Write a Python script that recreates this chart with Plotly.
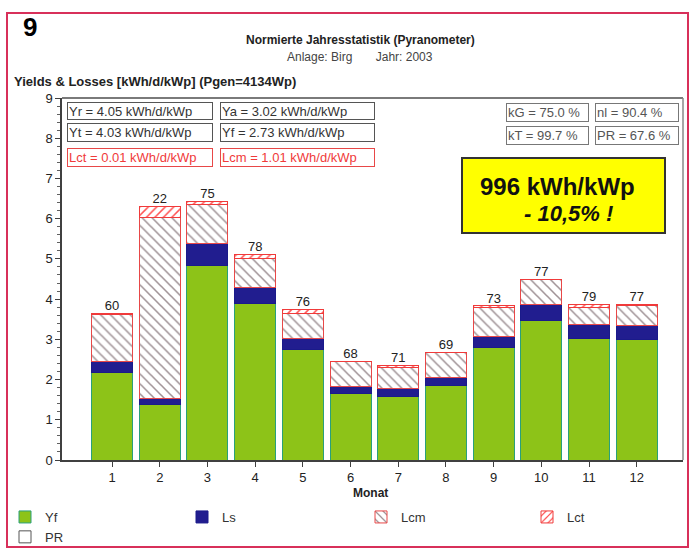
import numpy as np
import plotly.graph_objects as go

# Monthly normalised yields and losses (kWh/d/kWp)
months = list(range(1, 13))
yf = [2.17, 1.37, 4.83, 3.88, 2.74, 1.66, 1.59, 1.84, 2.80, 3.46, 3.03, 2.99]
ls = [0.28, 0.16, 0.56, 0.41, 0.27, 0.16, 0.18, 0.20, 0.27, 0.40, 0.35, 0.35]
lcm = [1.17, 4.50, 0.95, 0.71, 0.64, 0.63, 0.54, 0.63, 0.73, 0.62, 0.41, 0.49]
lct = [0.02, 0.27, 0.09, 0.12, 0.10, 0.01, 0.04, 0.01, 0.03, 0.02, 0.07, 0.03]
pr = [60, 22, 75, 78, 76, 68, 71, 69, 73, 77, 79, 77]

left_boxes = [["Yr = 4.05 kWh/d/kWp", "Ya = 3.02 kWh/d/kWp"],
              ["Yt = 4.03 kWh/d/kWp", "Yf = 2.73 kWh/d/kWp"],
              ["Lct = 0.01 kWh/d/kWp", "Lcm = 1.01 kWh/d/kWp"]]
right_boxes = [["kG = 75.0 %", "nl = 90.4 %"],
               ["kT = 99.7 %", "PR = 67.6 %"]]

FONT = "Liberation Sans, Arial, sans-serif"
W, H = 694, 551
L, R, T, B = 62, 11, 98, 91
PW, PH = W - L - R, H - T - B


def px(x):
    return (x - L) / PW


def py(y):
    return (H - B - y) / PH


total = np.array(yf) + np.array(ls) + np.array(lcm) + np.array(lct)

fig = go.Figure()
fig.add_trace(go.Bar(x=months, y=yf, name="Yf", legend="legend",
                     marker=dict(color="#8dc318", line=dict(color="#2aa07a", width=1))))
fig.add_trace(go.Bar(x=months, y=ls, name="Ls", legend="legend2",
                     marker=dict(color="#211d8f", line=dict(color="#1a1a8a", width=1))))
fig.add_trace(go.Bar(x=months, y=lcm, name="Lcm", legend="legend3",
                     marker=dict(color="white", line=dict(color="#e84848", width=1),
                                 pattern=dict(shape="\\", fgcolor="#a09296", bgcolor="white",
                                              size=7, solidity=0.22, fillmode="replace"))))
fig.add_trace(go.Bar(x=months, y=lct, name="Lct", legend="legend4",
                     marker=dict(color="white", line=dict(color="#f03a3a", width=1),
                                 pattern=dict(shape="/", fgcolor="#ff5050", bgcolor="white",
                                              size=6, solidity=0.25, fillmode="replace"))))
# PR legend entry (white box)
fig.add_trace(go.Bar(x=[None], y=[None], name="PR", legend="legend",
                     marker=dict(color="white", line=dict(color="#555555", width=1))))
# PR labels above bars
fig.add_trace(go.Scatter(x=months, y=total, mode="text", text=[str(v) for v in pr],
                         textposition="top center", showlegend=False, hoverinfo="skip",
                         textfont=dict(family=FONT, size=13, color="#222222")))

shapes = [
    # outer frame
    dict(type="rect", xref="paper", yref="paper", x0=px(7), x1=px(688), y0=py(547), y1=py(13),
         line=dict(color="#d8305a", width=2), layer="below"),
    # plot box top / right
    dict(type="line", xref="paper", yref="paper", x0=0, x1=1, y0=1, y1=1,
         line=dict(color="#7a7a7a", width=2)),
    dict(type="line", xref="paper", yref="paper", x0=1, x1=1, y0=0, y1=1,
         line=dict(color="#8a8a8a", width=1.5)),
    # yellow highlight box
    dict(type="rect", xref="paper", yref="paper", x0=px(462), x1=px(665), y0=py(233), y1=py(158),
         fillcolor="#ffff00", line=dict(color="#333333", width=2)),
]

annotations = [
    dict(x=px(30), y=py(27), text="<b>9</b>", font=dict(family="Liberation Sans Narrow, " + FONT, size=26, color="black")),
    dict(x=px(360), y=py(40), text="<b>Normierte Jahresstatistik (Pyranometer)</b>",
         font=dict(family=FONT, size=12, color="#222222")),
    dict(x=px(360), y=py(57), text="Anlage: Birg&nbsp;&nbsp;&nbsp;&nbsp;&nbsp;&nbsp;&nbsp;Jahr: 2003",
         font=dict(family=FONT, size=12, color="#444444")),
    dict(x=px(12), y=py(82), xanchor="left", text="<b>Yields &amp; Losses [kWh/d/kWp] (Pgen=4134Wp)</b>",
         font=dict(family=FONT, size=13, color="#222222")),
    dict(x=px(370), y=py(493), text="<b>Monat</b>", font=dict(family=FONT, size=12, color="#222222")),
    dict(x=px(557), y=py(186), text="<b>996 kWh/kWp</b>", font=dict(family=FONT, size=24, color="#111111")),
    dict(x=px(568), y=py(213), text="<b><i>- 10,5% !</i></b>", font=dict(family=FONT, size=22, color="#111111")),
]
for a in annotations:
    a.setdefault("xanchor", "center")
    a.setdefault("yanchor", "middle")


def box(text, x0, x1, y0, y1, color, border):
    return dict(x=px(x0), y=py(y0), xanchor="left", yanchor="top", text=text, align="left",
                width=x1 - x0 - 4, height=y1 - y0 - 4, borderpad=1, borderwidth=1,
                bordercolor=border, bgcolor="white", font=dict(family=FONT, size=13, color=color))


rows_y = [(102, 120), (123, 142), (148, 167)]
cols_x = [(67, 213), (220, 375)]
for r, row in enumerate(left_boxes):
    for c, txt in enumerate(row):
        if r == 2:
            color, border = "#f03a3a", "#e84848"
        else:
            color, border = "#333333", "#555555"
        annotations.append(box(txt, cols_x[c][0], cols_x[c][1], rows_y[r][0], rows_y[r][1], color, border))

rrows_y = [(103, 122), (126, 145)]
rcols_x = [(506, 589), (595, 679)]
for r, row in enumerate(right_boxes):
    for c, txt in enumerate(row):
        annotations.append(box(txt, rcols_x[c][0], rcols_x[c][1], rrows_y[r][0], rrows_y[r][1],
                               "#555555", "#777777"))

for a in annotations:
    a.setdefault("xref", "paper")
    a.setdefault("yref", "paper")
    a.setdefault("showarrow", False)

legend_style = dict(orientation="v", xref="container", yref="container", xanchor="left",
                    yanchor="top", bgcolor="rgba(0,0,0,0)", traceorder="normal",
                    font=dict(family=FONT, size=13, color="#333333"), tracegroupgap=0)
leg_top = 1 - 502 / H

fig.update_layout(
    width=W, height=H,
    margin=dict(l=L, r=R, t=T, b=B, autoexpand=False),
    paper_bgcolor="white", plot_bgcolor="white",
    barmode="stack", bargap=0.14,
    showlegend=True,
    legend=dict(x=5 / W, y=leg_top, **legend_style),
    legend2=dict(x=182 / W, y=leg_top, **legend_style),
    legend3=dict(x=361 / W, y=leg_top, **legend_style),
    legend4=dict(x=527 / W, y=leg_top, **legend_style),
    shapes=shapes,
    annotations=annotations,
    xaxis=dict(range=[-0.05, 12.97], tickmode="array", tickvals=months, ticks="outside",
               ticklen=5, tickcolor="#404040", showline=True, linecolor="#404040", linewidth=1.5,
               showgrid=False, zeroline=False,
               tickfont=dict(family=FONT, size=13, color="#222222")),
    yaxis=dict(range=[0, 9], dtick=1, ticks="outside", ticklen=5, tickcolor="#404040",
               showline=True, linecolor="#404040", linewidth=1.5, showgrid=False, zeroline=False,
               minor=dict(dtick=0.2, ticks="outside", ticklen=3, tickcolor="#606060"),
               tickfont=dict(family=FONT, size=13, color="#222222")),
)

# the page body has a default 8px margin; drop it so the figure fills the window
fig.write_html("out.html", config={"displayModeBar": False},
               post_script="document.body.style.margin='0';")
